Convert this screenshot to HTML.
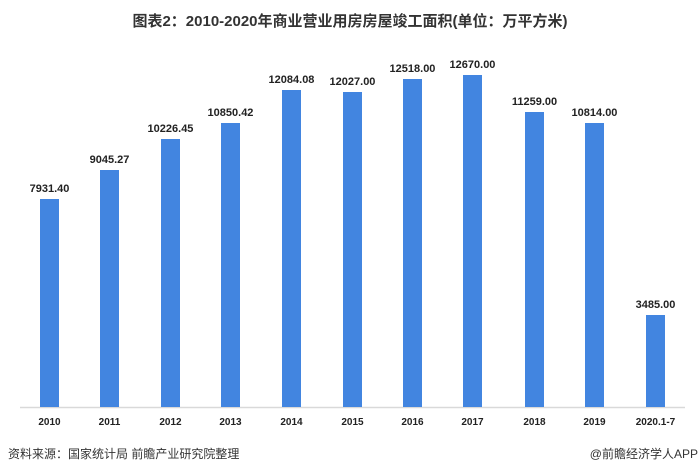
<!DOCTYPE html>
<html><head><meta charset="utf-8"><style>
body{margin:0;width:700px;height:476px;background:#fff;overflow:hidden;font-family:"Liberation Sans","Noto Sans CJK SC",sans-serif;}
</style></head><body>
<svg width="700" height="476" xmlns="http://www.w3.org/2000/svg" style="position:absolute;left:0;top:0">
<text x="350" y="26" text-anchor="middle" font-size="15" font-weight="bold" fill="#333" font-family="Liberation Sans, Noto Sans CJK SC, sans-serif">图表2：2010-2020年商业营业用房房屋竣工面积(单位：万平方米)</text>
<line x1="20" y1="407.5" x2="685" y2="407.5" stroke="#d9d9d9" stroke-width="1.5"/>
<g fill="#4285e0">
<rect x="40" y="199" width="19" height="208"/>
<rect x="100" y="170" width="19" height="237"/>
<rect x="161" y="139" width="19" height="268"/>
<rect x="221" y="123" width="19" height="284"/>
<rect x="282" y="90" width="19" height="317"/>
<rect x="343" y="92" width="19" height="315"/>
<rect x="403" y="79" width="19" height="328"/>
<rect x="463" y="75" width="19" height="332"/>
<rect x="525" y="112" width="19" height="295"/>
<rect x="585" y="123" width="19" height="284"/>
<rect x="646" y="315" width="19" height="92"/>
</g>
<g font-size="11" font-weight="bold" fill="#222" text-anchor="middle" font-family="Liberation Sans, sans-serif">
<text x="49.5" y="192">7931.40</text>
<text x="109.5" y="163">9045.27</text>
<text x="170.5" y="132">10226.45</text>
<text x="230.5" y="116">10850.42</text>
<text x="291.5" y="83">12084.08</text>
<text x="352.5" y="85">12027.00</text>
<text x="412.5" y="72">12518.00</text>
<text x="472.5" y="68">12670.00</text>
<text x="534.5" y="105">11259.00</text>
<text x="594.5" y="116">10814.00</text>
<text x="655.5" y="308">3485.00</text>
</g>
<g font-size="10" font-weight="bold" fill="#222" text-anchor="middle" font-family="Liberation Sans, sans-serif">
<text x="49.5" y="425">2010</text>
<text x="109.5" y="425">2011</text>
<text x="170.5" y="425">2012</text>
<text x="230.5" y="425">2013</text>
<text x="291.5" y="425">2014</text>
<text x="352.5" y="425">2015</text>
<text x="412.5" y="425">2016</text>
<text x="472.5" y="425">2017</text>
<text x="534.5" y="425">2018</text>
<text x="594.5" y="425">2019</text>
<text x="655.5" y="425">2020.1-7</text>
</g>
<text x="8" y="458" font-size="12" fill="#333" font-family="Liberation Sans, Noto Sans CJK SC, sans-serif">资料来源：国家统计局 前瞻产业研究院整理</text>
<text x="698" y="458" text-anchor="end" font-size="12" fill="#333" font-family="Liberation Sans, Noto Sans CJK SC, sans-serif">@前瞻经济学人APP</text>
</svg>
</body></html>
